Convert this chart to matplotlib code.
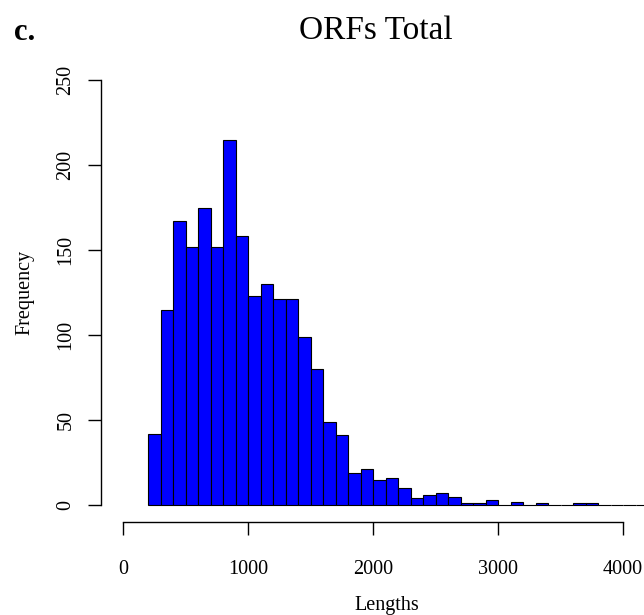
import numpy as np
import matplotlib
matplotlib.use("Agg")
import matplotlib.pyplot as plt

plt.rcParams['font.family'] = ['Liberation Serif', 'DejaVu Serif']

# histogram of ORF lengths, bins of 100 starting at 200
edges = np.arange(200, 4500, 100)
counts = [42, 115, 167, 152, 175, 152, 215, 158, 123, 130,
          121, 121, 99, 80, 49, 41, 19, 21, 15, 16,
          10, 4, 6, 7, 5, 1, 1, 3, 0, 2,
          0, 1, 0, 0, 1, 1, 0, 0, 0, 0,
          0, 0]

xticks = [0, 1000, 2000, 3000, 4000]
yticks = [0, 50, 100, 150, 200, 250]

fig = plt.figure(figsize=(6.44, 6.15), dpi=100)
# axes runs off the right edge like the cropped original
ax = fig.add_axes([101 / 644, 93 / 615, 572 / 644, 459 / 615])

ax.hist(edges[:-1], bins=edges, weights=counts, color='#0000ff',
        edgecolor='black', linewidth=0.8)

ax.set_xlim(-176, 4400)
ax.set_ylim(-10, 260)

for s in ['top', 'right']:
    ax.spines[s].set_visible(False)
ax.spines['left'].set_bounds(0, 250)
ax.spines['bottom'].set_bounds(0, 4000)
ax.spines['left'].set_linewidth(1.0)
ax.spines['bottom'].set_linewidth(1.0)

ax.set_xticks(xticks)
ax.set_yticks(yticks)
ax.set_yticklabels([str(v) for v in yticks], rotation=90, va='center')
ax.tick_params(axis='both', length=9.5, width=1.0, labelsize=14.5)
ax.tick_params(axis='x', pad=18)
ax.tick_params(axis='y', pad=9)

ax.set_xlabel('Lengths', fontsize=14.5, labelpad=12)
ax.set_ylabel('Frequency', fontsize=14.5, labelpad=16)

fig.text(376 / 644, 1 - 31 / 615, 'ORFs Total', fontsize=24,
         ha='center', va='center')
fig.text(14 / 644, 1 - 33 / 615, 'c.', fontsize=22, fontweight='bold',
         ha='left', va='center')

fig.savefig('out.png', dpi=100)
